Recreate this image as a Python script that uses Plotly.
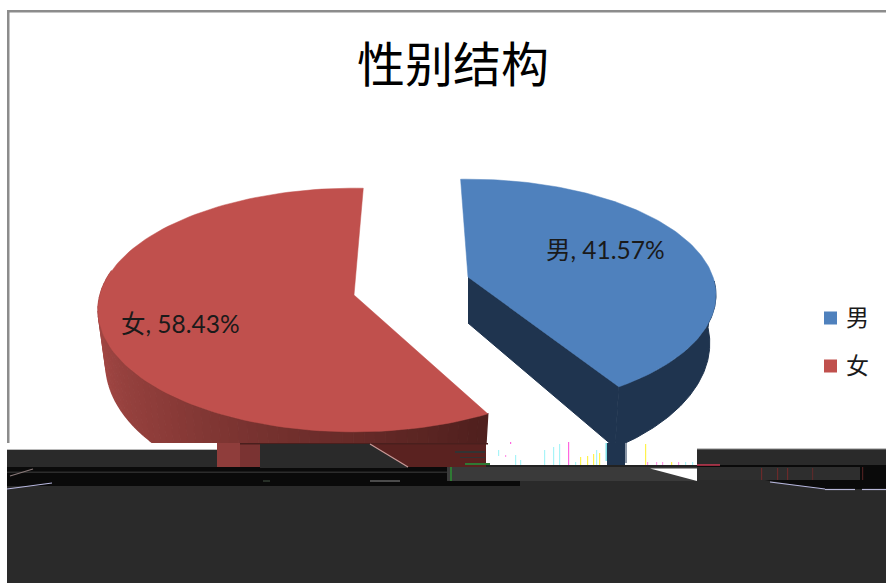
import math
import plotly.graph_objects as go

# ---- data ----
categories = ["男", "女"]
shares = [41.57, 58.43]
title_text = "性别结构"
label_texts = ["男, 41.57%", "女, 58.43%"]

FONT = "Lato, 'Noto Sans CJK SC', sans-serif"
BLUE, RED = "#4F81BD", "#C0504D"
BLUE_DARK = "#1F344F"

span_blue = shares[0] / sum(shares) * 360
span_red = shares[1] / sum(shares) * 360


class Slice:
    """One exploded slice of the tilted pie, drawn with a simple perspective."""

    def __init__(self, ax, ay, rx, ry, k, depth, shrink):
        self.ax, self.ay, self.rx, self.ry, self.k = ax, ay, rx, ry, k
        self.depth, self.shrink = depth, shrink

    def pt(self, deg, low=False, r=1.0):
        t = math.radians(deg)
        u, v = r * math.sin(t), -r * math.cos(t)
        s = 1 / (1 - self.k * v)
        drop = self.depth * s * s if low else 0
        w = self.shrink if low else 1.0
        return self.ax + self.rx * u * s * w, self.ay + self.ry * v * s + drop

    def arc(self, a0, a1, low=False, n=120):
        return [self.pt(a0 + (a1 - a0) * i / n, low) for i in range(n + 1)]


def polygon(pts, color, width=1.0):
    return go.Scatter(x=[p[0] for p in pts], y=[p[1] for p in pts], mode="lines",
                      fill="toself", fillcolor=color, line=dict(color=color, width=width),
                      hoverinfo="skip", showlegend=False)


def mix(c0, c1, f):
    return "rgb(%d,%d,%d)" % tuple(c0[i] + (c1[i] - c0[i]) * f for i in range(3))


fig = go.Figure()
blue = Slice(468, 277, 245, 113, 0.155, 46, 0.975)
red = Slice(354, 295, 254, 120, 0.123, 52, 0.97)
b0 = -2
b1 = b0 + span_blue
r0 = 152
r1 = r0 + span_red

# blue walls
apex_b, apex_b_low = (blue.ax, blue.ay), (blue.ax, blue.ay + blue.depth)
fig.add_trace(polygon([apex_b, blue.pt(b1), blue.pt(b1, True), apex_b_low], BLUE_DARK))
fig.add_trace(polygon(blue.arc(b1, 92) + blue.arc(92, b1, True), BLUE_DARK))
# blue top
fig.add_trace(polygon([apex_b] + blue.arc(b0, b1) + [apex_b], BLUE, 0.5))

# red outer wall, graded
steps = 60
stops = [(178, 80, 77), (140, 60, 57), (80, 32, 30)]
for i in range(steps):
    a = 282 + (r0 - 282) * i / steps
    c = 282 + (r0 - 282) * (i + 1) / steps
    f = i / (steps - 1)
    col = mix(stops[0], stops[1], f / 0.45) if f < 0.45 else mix(stops[1], stops[2], (f - 0.45) / 0.55)
    fig.add_trace(polygon(red.arc(a, c, False, 3) + red.arc(c, a, True, 3), col, 1.4))
# red top
apex_r = (red.ax, red.ay)
fig.add_trace(polygon([apex_r] + red.arc(r0, r1) + [apex_r], RED, 0.5))

# legend keys at the right
for name, col, yy in zip(categories, [BLUE, RED], [318, 366]):
    fig.add_trace(go.Scatter(x=[830.5], y=[yy], mode="markers", name=name, showlegend=False, hoverinfo="name",
                             marker=dict(symbol="square", size=13, color=col)))
    fig.add_annotation(x=857, y=yy - 1, text=name, showarrow=False, font=dict(family=FONT, size=23, color="#1a1a1a"))

# data labels
fig.add_annotation(x=605, y=249, text=label_texts[0], showarrow=False, font=dict(family=FONT, size=24.5, color="#1a1a1a"))
fig.add_annotation(x=180, y=323, text=label_texts[1], showarrow=False, font=dict(family=FONT, size=24.5, color="#1a1a1a"))
# title
fig.add_annotation(x=453, y=61, text=title_text, showarrow=False, font=dict(family="'Noto Sans CJK SC', sans-serif", size=48, color="#000000"))

# frame and the damaged lower strip of the picture
D, K0, G = "#2A2A2A", "#0A0A0A", "#3A3A3A"
rects = [
    (7, 10, 886, 12.5, "#8C8C8C"), (7, 10, 9.5, 443, "#8C8C8C"),
    (0, 443, 7, 583, "#FFFFFF"),
    (7, 443, 217, 450, "#FFFFFF"), (7, 449.5, 217, 450.5, "#777777"), (7, 450, 217, 468, D),
    (217, 443, 240, 468, "#8F3D3B"), (240, 443, 260, 468, "#7A3332"),
    (260, 443, 486, 468, "#5A2220"),
    (486, 443, 886, 465, "#FFFFFF"), (607, 443, 625, 465, BLUE_DARK),
    (605.5, 443, 607, 461, "#7FE0E8"), (625, 443, 627, 463, "#8A96A6"),
    (697, 449, 886, 465, D), (697, 448.5, 886, 449.5, "#888888"),
    (486, 465, 697, 467, "#222222"), (697, 465, 886, 467, K0),
    (7, 467, 447, 486, K0), (7, 471.5, 447, 473, "#2C2C2C"),
    (447, 467, 697, 481, G), (447, 481, 520, 486, K0), (520, 481, 697, 583, D),
    (697, 467, 860, 480, "#2E2E2E"), (860, 467, 886, 489, K0), (697, 480, 886, 583, D),
    (7, 486, 520, 583, D),
    (240, 443, 488, 444.5, "#4A1F1D"), (450, 467, 452, 481, "#2F7A34"),
    (370, 480.5, 400, 481.5, "#8C8C8C"), (263, 480.5, 270, 481.5, "#445544"),
    (455, 451, 485, 453, "#333333"), (460, 457, 485, 458, "#333333"), (465, 463, 490, 465, "#2F7A34"),
]
# coloured single-pixel streaks
streaks = [
    (498, 450, 456, "#A8F4F8"), (515, 455, 465, "#A8F4F8"), (520, 460, 465, "#A8F4F8"), (544, 450, 465, "#A8F4F8"),
    (553, 447, 465, "#A8F4F8"), (559, 444, 465, "#A8F4F8"), (568, 442, 465, "#FF66E0"), (575, 462, 465, "#A8F4F8"),
    (580, 457, 465, "#FFF24D"), (587, 456, 465, "#FFF24D"), (593, 454, 465, "#FFF24D"), (596, 450, 465, "#A8F4F8"),
    (599, 453, 465, "#FFF24D"), (645, 444, 465, "#FFF24D"), (647, 462, 465, "#FF99E8"), (656, 462, 465, "#FF99E8"),
    (662, 462, 465, "#FF99E8"), (671, 462, 465, "#FFF24D"), (678, 462, 465, "#FF99E8"), (685, 462, 465, "#A8F4F8"),
    (692, 462, 465, "#A8F4F8"), (510, 442, 444, "#FF66E0"), (505, 455, 457, "#FF99E8"),
    (761, 468, 480, "#6A2A2A"), (777, 468, 480, "#6A2A2A"), (787, 468, 480, "#6A2A2A"), (812, 468, 480, "#5A2A2A"), (862, 467, 480, "#4A1F1F"),
]
rects += [(x, a, x + 1.2, b, c) for x, a, b, c in streaks]
shapes = [dict(type="rect", xref="x", yref="y", x0=a, y0=b, x1=c, y1=d, fillcolor=col,
               line=dict(width=0), layer="above") for a, b, c, d, col in rects]


def path(d, col):
    return dict(type="path", xref="x", yref="y", path=d, fillcolor=col, line=dict(width=0), layer="above")


def seg(x0, y0, x1, y1, col):
    return dict(type="line", xref="x", yref="y", x0=x0, y0=y0, x1=x1, y1=y1, line=dict(color=col, width=1.2), layer="above")


shapes += [
    path("M 650 468.5 L 697 481 L 697 468.5 Z", "#FFFFFF"),
    path("M 260 444 L 370 444 L 408 467 L 408 468 L 260 468 Z", D),
    path("M 765 480 L 820 489 L 886 489 L 886 480 Z", K0),
    seg(370, 444, 408, 467, "#C99A98"),
    seg(10, 476, 33, 469, "#8A7A7A"), seg(7, 489, 52, 483, "#B8B8E0"),
    seg(770, 482, 825, 489, "#B8B8E0"), seg(825, 489.5, 855, 489.5, "#B8B8D8"), seg(862, 489.5, 886, 489.5, "#B8B8D8"),
    seg(697, 465, 720, 465, "#F04060"),
]

fig.update_layout(
    width=886, height=583, margin=dict(l=0, r=0, t=0, b=0, autoexpand=False),
    paper_bgcolor="#FFFFFF", plot_bgcolor="#FFFFFF", shapes=shapes, showlegend=False,
    xaxis=dict(range=[0, 886], visible=False, fixedrange=True),
    yaxis=dict(range=[583, 0], visible=False, fixedrange=True),
)
fig.write_html("out.html", config={"displayModeBar": False},
               post_script="document.body.style.margin='0';")
